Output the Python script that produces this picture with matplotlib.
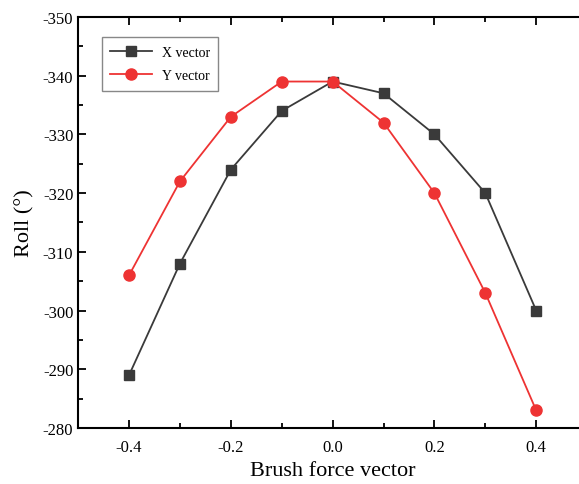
import matplotlib
matplotlib.use('Agg')
import matplotlib.pyplot as plt
from matplotlib.ticker import MultipleLocator

plt.rcParams['font.family'] = ['Liberation Serif', 'DejaVu Serif']

# data
force = [-0.4, -0.3, -0.2, -0.1, 0.0, 0.1, 0.2, 0.3, 0.4]
x_vector = [-289, -308, -324, -334, -339, -337, -330, -320, -300]
y_vector = [-306, -322, -333, -339, -339, -332, -320, -303, -283]

fig = plt.figure(figsize=(5.79, 4.85), dpi=100)
ax = fig.add_axes([0.135, 0.1155, 0.879, 0.8475])

ax.plot(force, x_vector, color='#3a3a3a', marker='s', markersize=7, lw=1.3, label='X vector')
ax.plot(force, y_vector, color='#ee3333', marker='o', markersize=8, lw=1.3, label='Y vector')

ax.set_xlim(-0.5, 0.5)
ax.set_ylim(-280, -350)

ax.xaxis.set_minor_locator(MultipleLocator(0.1))
ax.yaxis.set_minor_locator(MultipleLocator(5))
ax.set_xticks([-0.4, -0.2, 0.0, 0.2, 0.4])
ax.set_xticklabels(['-0.4', '-0.2', '0.0', '0.2', '0.4'])
ax.set_yticks(range(-350, -279, 10))
ax.set_yticklabels([str(v) for v in range(-350, -279, 10)])

ax.tick_params(which='both', direction='in', top=True, right=True, labelsize=12, width=1.3)
ax.tick_params(which='major', length=6)
ax.tick_params(which='minor', length=3.5)
ax.tick_params(axis='x', pad=8)
for s in ax.spines.values():
    s.set_linewidth(1.5)

ax.set_xlabel('Brush force vector', fontsize=16, labelpad=4)
ax.set_ylabel('Roll (°)', fontsize=16, labelpad=6)

leg = ax.legend(loc='upper left', bbox_to_anchor=(0.047, 0.95), fontsize=10,
                fancybox=False, edgecolor='#888888', framealpha=1,
                handlelength=3.0, handletextpad=0.7, borderpad=0.6,
                labelspacing=0.75, borderaxespad=0)
leg.get_frame().set_linewidth(1.0)

fig.savefig('out.png', dpi=100)
